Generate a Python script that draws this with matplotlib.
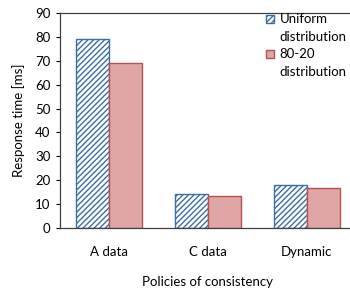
import matplotlib.pyplot as plt
from matplotlib.patches import Rectangle
import numpy as np

plt.rcParams['font.family'] = ['Lato', 'DejaVu Sans']
plt.rcParams['hatch.linewidth'] = 1.0
plt.rcParams['hatch.color'] = '#6b9fd8'

categories = ['A data', 'C data', 'Dynamic']
uniform = [79, 14.4, 18]
eighty_twenty = [69, 13.4, 16.6]

fig = plt.figure(figsize=(3.5, 2.89), dpi=100)
ax = fig.add_axes([60 / 350, 61 / 289, 296 / 350, 215 / 289])

x = np.arange(len(categories))
w = 0.335
b1 = ax.bar(x - w / 2, uniform, w, facecolor='white', edgecolor='#3a6ea5',
            hatch='//////', linewidth=1.0)
b2 = ax.bar(x + w / 2, eighty_twenty, w, facecolor='#e0a6a6', edgecolor='#b5514f',
            linewidth=1.0)

ax.set_xlim(-0.5, 2.5)
ax.set_ylim(0, 90)
ax.set_yticks(range(0, 91, 10))
ax.set_xticks(x)
ax.set_xticklabels(categories)
ax.tick_params(axis='x', length=0, pad=13, labelsize=9.5)
ax.tick_params(axis='y', length=3, width=0.8, labelsize=9.5, pad=4)
for s in ax.spines.values():
    s.set_color('#404040')
    s.set_linewidth(0.9)
ax.spines['right'].set_visible(False)

ax.set_ylabel('Response time [ms]', fontsize=9.5, labelpad=7)
ax.set_xlabel('Policies of consistency', fontsize=9.5, labelpad=13)

# handle sits on the first line of each two-line label
blank = Rectangle((0, 0), 1, 1, visible=False)
leg = ax.legend([b1, blank, b2, blank],
                ['Uniform', 'distribution', '80-20', 'distribution'],
                loc='upper right', bbox_to_anchor=(0.995, 1.035), frameon=False,
                fontsize=9.5, handlelength=0.6, handleheight=0.6,
                handletextpad=0.45, labelspacing=0.42, borderaxespad=0.2)

fig.savefig('out.png', dpi=100)
